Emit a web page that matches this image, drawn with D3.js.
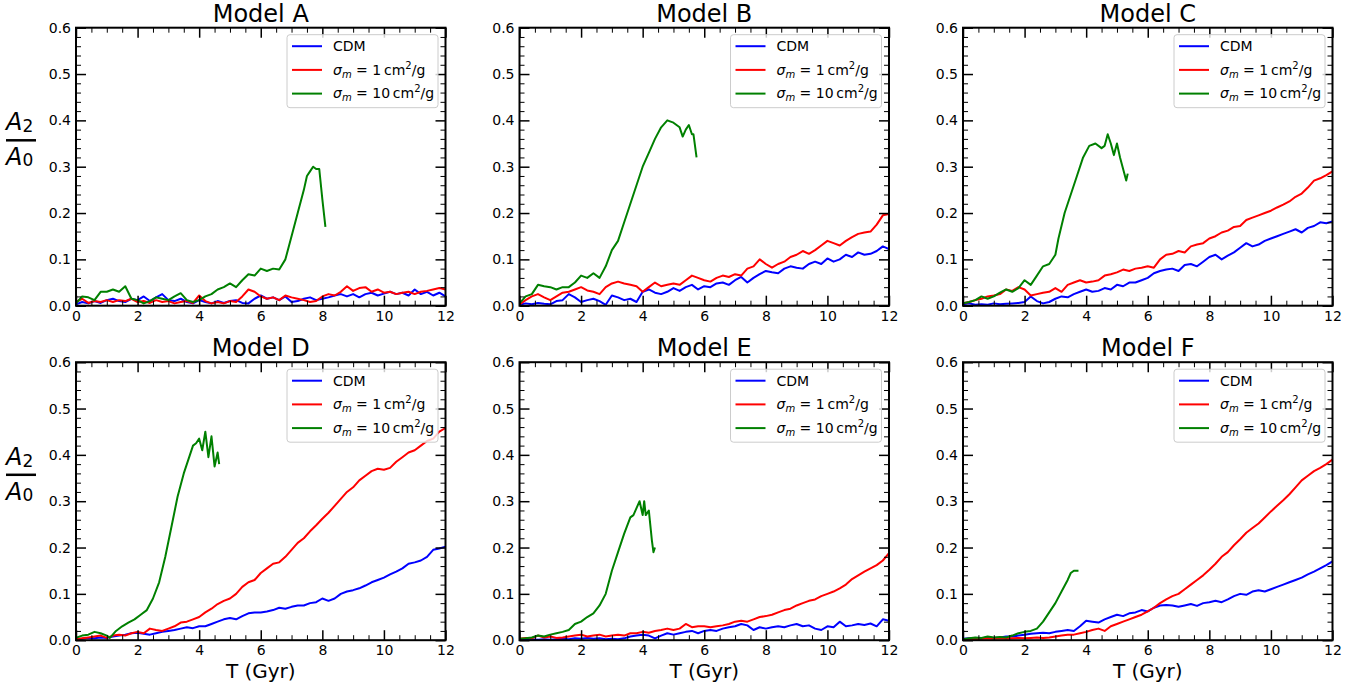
<!DOCTYPE html>
<html>
<head>
<meta charset="utf-8">
<script src="https://cdn.jsdelivr.net/npm/d3@7"></script>
<style>
  body { margin: 0; background: #fff; }
  svg text { font-family: "DejaVu Sans", sans-serif; fill: #000; }
</style>
</head>
<body>
<svg id="chart" width="1368" height="689"></svg>
<script>
// time sampling of the CDM and 1 cm^2/g runs (Gyr)
const T_STEP = 0.2;

const models = ["Model A", "Model B", "Model C", "Model D", "Model E", "Model F"];
const xTicks = [0, 2, 4, 6, 8, 10, 12];
const yTicks = [0, 0.1, 0.2, 0.3, 0.4, 0.5, 0.6];
const colors = ["#0000ff", "#ff0000", "#008000"];

// A2/A0, CDM
const cdmA = [0.003,0.008,0.005,0.01,0.006,0.012,0.015,0.01,0.008,0.015,0.012,0.02,0.01,0.018,0.025,0.012,0.01,0.015,0.008,0.005,
  0.012,0.008,0.005,0.01,0.006,0.01,0.012,0.006,0.005,0.015,0.022,0.015,0.018,0.012,0.02,0.008,0.01,0.015,0.018,0.012,
  0.015,0.018,0.022,0.025,0.02,0.025,0.018,0.025,0.028,0.022,0.026,0.03,0.025,0.028,0.022,0.035,0.025,0.03,0.022,0.028,0.02];
const cdmB = [0.002,0.005,0.003,0.006,0.004,0.003,0.01,0.012,0.025,0.018,0.008,0.012,0.015,0.01,0.002,0.022,0.018,0.012,0.015,0.008,
  0.03,0.035,0.028,0.025,0.03,0.038,0.032,0.04,0.045,0.035,0.042,0.04,0.048,0.05,0.045,0.055,0.062,0.05,0.06,0.068,
  0.075,0.072,0.07,0.08,0.085,0.082,0.08,0.09,0.095,0.09,0.102,0.095,0.1,0.11,0.105,0.115,0.11,0.112,0.118,0.128,0.122];
const cdmC = [0.003,0.005,0.002,0.003,0.002,0.005,0.003,0.004,0.005,0.006,0.008,0.02,0.01,0.005,0.008,0.015,0.02,0.018,0.025,0.03,
  0.035,0.03,0.032,0.038,0.035,0.045,0.042,0.05,0.05,0.055,0.06,0.07,0.075,0.078,0.08,0.075,0.088,0.09,0.085,0.095,
  0.105,0.11,0.1,0.108,0.115,0.125,0.135,0.128,0.132,0.14,0.145,0.15,0.155,0.16,0.165,0.158,0.168,0.172,0.18,0.178,0.182];
const cdmD = [0.002,0.003,0.005,0.004,0.006,0.005,0.008,0.01,0.012,0.015,0.016,0.014,0.012,0.015,0.018,0.02,0.022,0.025,0.028,0.026,
  0.03,0.03,0.035,0.04,0.045,0.048,0.045,0.052,0.058,0.06,0.06,0.062,0.065,0.07,0.068,0.072,0.075,0.075,0.08,0.082,
  0.09,0.085,0.09,0.1,0.105,0.108,0.112,0.118,0.125,0.13,0.135,0.142,0.148,0.155,0.165,0.168,0.172,0.18,0.195,0.198,0.202];
const cdmE = [0.002,0.001,0.002,0.001,0.002,0.001,0.002,0.003,0.002,0.004,0.003,0.005,0.003,0.004,0.002,0.003,0.002,0.004,0.008,0.01,
  0.012,0.01,0.004,0.01,0.015,0.012,0.015,0.018,0.02,0.015,0.02,0.022,0.02,0.025,0.028,0.03,0.035,0.032,0.022,0.028,
  0.025,0.028,0.03,0.028,0.032,0.035,0.03,0.032,0.025,0.022,0.03,0.028,0.04,0.03,0.032,0.035,0.033,0.036,0.03,0.045,0.042];
const cdmF = [0.003,0.004,0.005,0.004,0.006,0.005,0.006,0.008,0.008,0.01,0.012,0.014,0.015,0.016,0.015,0.018,0.02,0.022,0.02,0.03,
  0.042,0.04,0.038,0.045,0.05,0.055,0.052,0.058,0.06,0.065,0.062,0.07,0.075,0.076,0.075,0.072,0.075,0.078,0.074,0.08,
  0.082,0.085,0.082,0.088,0.095,0.1,0.098,0.105,0.108,0.105,0.11,0.115,0.12,0.125,0.13,0.135,0.142,0.148,0.155,0.162,0.17];

// A2/A0, sigma_m = 1 cm^2/g
const sidm1A = [0.008,0.015,0.006,0.01,0.008,0.012,0.008,0.012,0.01,0.015,0.008,0.01,0.006,0.012,0.008,0.01,0.005,0.008,0.01,0.006,
  0.022,0.01,0.005,0.008,0.005,0.01,0.008,0.02,0.035,0.03,0.02,0.015,0.018,0.012,0.022,0.018,0.015,0.012,0.008,0.01,
  0.02,0.025,0.022,0.03,0.042,0.032,0.038,0.04,0.03,0.035,0.028,0.03,0.025,0.028,0.03,0.025,0.03,0.032,0.035,0.038,0.035];
const sidm1B = [0.003,0.012,0.02,0.025,0.018,0.012,0.02,0.028,0.03,0.035,0.04,0.033,0.03,0.025,0.04,0.048,0.052,0.048,0.045,0.042,
  0.03,0.04,0.05,0.042,0.045,0.048,0.045,0.055,0.065,0.06,0.055,0.052,0.06,0.065,0.062,0.068,0.065,0.08,0.085,0.1,
  0.09,0.082,0.09,0.095,0.105,0.11,0.118,0.112,0.12,0.13,0.14,0.135,0.13,0.14,0.148,0.155,0.158,0.16,0.175,0.195,0.198];
const sidm1C = [0.005,0.008,0.012,0.015,0.02,0.022,0.025,0.035,0.032,0.04,0.035,0.022,0.025,0.028,0.03,0.038,0.03,0.045,0.05,0.055,
  0.05,0.052,0.055,0.065,0.068,0.072,0.078,0.075,0.08,0.082,0.085,0.082,0.1,0.11,0.112,0.118,0.115,0.128,0.132,0.135,
  0.145,0.15,0.158,0.162,0.17,0.172,0.185,0.19,0.195,0.2,0.205,0.212,0.218,0.225,0.235,0.242,0.255,0.27,0.275,0.282,0.29];
const sidm1D = [0.002,0.004,0.006,0.008,0.01,0.005,0.01,0.012,0.01,0.015,0.018,0.015,0.025,0.022,0.02,0.025,0.03,0.038,0.04,0.045,
  0.05,0.06,0.068,0.078,0.085,0.09,0.1,0.115,0.125,0.13,0.145,0.155,0.165,0.168,0.18,0.195,0.21,0.22,0.235,0.248,
  0.262,0.275,0.29,0.305,0.32,0.33,0.345,0.355,0.365,0.37,0.368,0.372,0.385,0.395,0.405,0.41,0.42,0.43,0.435,0.45,0.458];
const sidm1E = [0.003,0.005,0.004,0.01,0.006,0.008,0.005,0.006,0.008,0.01,0.012,0.008,0.01,0.012,0.008,0.01,0.012,0.01,0.015,0.015,
  0.018,0.016,0.02,0.022,0.025,0.022,0.025,0.035,0.028,0.03,0.03,0.028,0.03,0.032,0.035,0.04,0.042,0.04,0.045,0.05,
  0.052,0.055,0.06,0.065,0.068,0.075,0.08,0.085,0.088,0.095,0.1,0.105,0.112,0.12,0.132,0.14,0.148,0.155,0.162,0.172,0.188];
const sidm1F = [0.002,0.003,0.002,0.003,0.004,0.003,0.004,0.003,0.004,0.005,0.004,0.005,0.006,0.005,0.006,0.008,0.01,0.012,0.012,0.015,
  0.018,0.022,0.025,0.02,0.03,0.035,0.04,0.045,0.05,0.055,0.062,0.07,0.08,0.088,0.095,0.1,0.11,0.12,0.13,0.14,
  0.152,0.165,0.18,0.19,0.205,0.218,0.232,0.242,0.252,0.265,0.278,0.29,0.302,0.315,0.33,0.345,0.355,0.365,0.372,0.38,0.39];

// A2/A0, sigma_m = 10 cm^2/g (runs stop early, own time samples)
const sidm10TA = [0,0.2,0.4,0.6,0.8,1.0,1.2,1.4,1.6,1.8,2.0,2.2,2.4,2.6,2.8,3.0,3.2,3.4,3.6,3.8,4.0,4.2,4.4,4.6,4.8,5.0,5.2,5.4,5.6,5.8,6.0,6.2,6.4,6.6,6.8,7.0,7.2,7.4,7.5,7.6,7.7,7.8,7.9,8.0,8.1];
const sidm10A = [0.005,0.02,0.018,0.012,0.03,0.03,0.035,0.03,0.042,0.015,0.012,0.005,0.01,0.018,0.015,0.012,0.02,0.027,0.012,0.008,0.012,0.02,0.025,0.035,0.04,0.048,0.04,0.055,0.068,0.065,0.08,0.075,0.08,0.078,0.1,0.15,0.2,0.25,0.28,0.29,0.3,0.295,0.295,0.23,0.17];
const sidm10TB = [0,0.2,0.4,0.6,0.8,1.0,1.2,1.4,1.6,1.8,2.0,2.2,2.4,2.6,2.8,3.0,3.2,3.4,3.6,3.8,4.0,4.2,4.4,4.6,4.8,5.0,5.2,5.3,5.4,5.5,5.6,5.65,5.75];
const sidm10B = [0.005,0.02,0.025,0.045,0.042,0.04,0.035,0.04,0.04,0.05,0.065,0.06,0.07,0.06,0.085,0.12,0.14,0.18,0.22,0.26,0.3,0.33,0.36,0.385,0.4,0.395,0.385,0.365,0.38,0.39,0.37,0.37,0.32];
const sidm10TC = [0,0.2,0.4,0.6,0.8,1.0,1.2,1.4,1.6,1.8,2.0,2.2,2.4,2.6,2.8,3.0,3.1,3.3,3.5,3.7,3.9,4.1,4.3,4.5,4.6,4.7,4.8,4.9,5.0,5.1,5.2,5.3,5.35];
const sidm10C = [0.005,0.008,0.012,0.02,0.015,0.02,0.028,0.035,0.03,0.038,0.055,0.045,0.065,0.085,0.09,0.11,0.145,0.2,0.24,0.28,0.32,0.345,0.35,0.34,0.345,0.37,0.35,0.325,0.35,0.32,0.295,0.27,0.285];
const sidm10TD = [0,0.2,0.4,0.6,0.8,1.0,1.1,1.3,1.5,1.7,1.9,2.1,2.3,2.5,2.7,2.9,3.1,3.3,3.5,3.7,3.8,3.9,4.0,4.1,4.2,4.3,4.4,4.5,4.6,4.65];
const sidm10D = [0.005,0.01,0.012,0.018,0.015,0.01,0.005,0.02,0.03,0.038,0.045,0.055,0.065,0.09,0.125,0.18,0.245,0.31,0.36,0.4,0.42,0.425,0.435,0.41,0.45,0.395,0.44,0.375,0.405,0.38];
const sidm10TE = [0,0.2,0.4,0.6,0.8,1.0,1.2,1.4,1.6,1.8,2.0,2.2,2.4,2.6,2.8,3.0,3.2,3.4,3.6,3.7,3.8,3.9,4.0,4.05,4.1,4.2,4.3,4.35,4.4];
const sidm10E = [0.003,0.004,0.006,0.01,0.008,0.012,0.015,0.018,0.022,0.035,0.04,0.05,0.058,0.075,0.1,0.15,0.19,0.23,0.265,0.27,0.285,0.3,0.27,0.3,0.27,0.28,0.215,0.19,0.2];
const sidm10TF = [0,0.2,0.4,0.6,0.8,1.0,1.2,1.4,1.6,1.8,2.0,2.2,2.4,2.6,2.8,3.0,3.2,3.4,3.5,3.6,3.75];
const sidm10F = [0.002,0.004,0.006,0.005,0.008,0.006,0.007,0.006,0.01,0.015,0.018,0.02,0.025,0.04,0.06,0.08,0.105,0.13,0.145,0.15,0.15];

const cdm = [cdmA, cdmB, cdmC, cdmD, cdmE, cdmF];
const sidm1 = [sidm1A, sidm1B, sidm1C, sidm1D, sidm1E, sidm1F];
const sidm10T = [sidm10TA, sidm10TB, sidm10TC, sidm10TD, sidm10TE, sidm10TF];
const sidm10 = [sidm10A, sidm10B, sidm10C, sidm10D, sidm10E, sidm10F];

// layout
const colX = [76, 519.5, 963];
const rowY = [27.7, 362.2];
const W = 369.5;
const H = 278;

const svg = d3.select("#chart");

const x = d3.scaleLinear().domain([0, 12]).range([0, W]);
const y = d3.scaleLinear().domain([0, 0.6]).range([H, 0]);

const xMinor = d3.range(0.5, 12, 0.5).filter(v => v % 2 !== 0);
const yMinor = d3.range(1, 30).map(v => v * 0.02).filter((v, i) => (i + 1) % 5 !== 0);

const line = d3.line()
    .x(d => x(d[0]))
    .y(d => y(d[1]));

function styleAxis(g, width) {
  g.select(".domain").remove();
  g.selectAll(".tick line")
      .attr("stroke", "#000")
      .attr("stroke-width", width);
  g.selectAll(".tick text")
      .attr("font-family", "DejaVu Sans, sans-serif")
      .attr("font-size", 14)
      .attr("fill", "#000");
}

function addAxes(panel) {
  const fmt = d3.format(".1f");
  // major ticks, inward on all four sides
  panel.append("g")
      .attr("transform", `translate(0,${H})`)
      .call(d3.axisBottom(x).tickValues(xTicks).tickSize(-10).tickPadding(5).tickFormat(d3.format("d")))
      .call(g => styleAxis(g, 1.5));
  panel.append("g")
      .call(d3.axisLeft(y).tickValues(yTicks).tickSize(-10).tickPadding(5).tickFormat(fmt))
      .call(g => styleAxis(g, 1.5));
  panel.append("g")
      .call(d3.axisTop(x).tickValues(xTicks).tickSize(-10).tickFormat(""))
      .call(g => styleAxis(g, 1.5));
  panel.append("g")
      .attr("transform", `translate(${W},0)`)
      .call(d3.axisRight(y).tickValues(yTicks).tickSize(-10).tickFormat(""))
      .call(g => styleAxis(g, 1.5));

  // minor ticks
  panel.append("g")
      .attr("transform", `translate(0,${H})`)
      .call(d3.axisBottom(x).tickValues(xMinor).tickSize(-5).tickFormat(""))
      .call(g => styleAxis(g, 1));
  panel.append("g")
      .call(d3.axisTop(x).tickValues(xMinor).tickSize(-5).tickFormat(""))
      .call(g => styleAxis(g, 1));
  panel.append("g")
      .call(d3.axisLeft(y).tickValues(yMinor).tickSize(-5).tickFormat(""))
      .call(g => styleAxis(g, 1));
  panel.append("g")
      .attr("transform", `translate(${W},0)`)
      .call(d3.axisRight(y).tickValues(yMinor).tickSize(-5).tickFormat(""))
      .call(g => styleAxis(g, 1));
}

function sigmaLabel(text, value) {
  text.append("tspan").attr("font-style", "italic").text("\u03c3");
  text.append("tspan").attr("font-style", "italic").attr("font-size", 10).attr("dy", 3).text("m");
  text.append("tspan").attr("dy", -3).text(` = ${value}\u2009cm`);
  text.append("tspan").attr("font-size", 10).attr("dy", -6).text("2");
  text.append("tspan").attr("dy", 6).text("/g");
}

function addLegend(panel) {
  const lg = panel.append("g")
      .attr("transform", `translate(${W - 158.5},7)`);

  lg.append("rect")
      .attr("width", 151)
      .attr("height", 73)
      .attr("rx", 3)
      .attr("fill", "#fff")
      .attr("fill-opacity", 0.8)
      .attr("stroke", "#cccccc")
      .attr("stroke-width", 1);

  [0, 1, 2].forEach(i => {
    const ry = 11.5 + i * 23.7;
    lg.append("line")
        .attr("x1", 5).attr("x2", 35)
        .attr("y1", ry).attr("y2", ry)
        .attr("stroke", colors[i])
        .attr("stroke-width", 2);
    const t = lg.append("text")
        .attr("x", 46)
        .attr("y", ry)
        .attr("dy", "0.35em")
        .attr("font-size", 14);
    if (i === 0) t.text("CDM");
    else sigmaLabel(t, i === 1 ? "1" : "10");
  });
}

function addYLabel(row) {
  const g = svg.append("g")
      .attr("transform", `translate(0,${rowY[row]})`);
  const num = g.append("text")
      .attr("x", 6)
      .attr("y", 102.5)
      .attr("font-size", 24)
      .attr("font-style", "italic");
  num.append("tspan").text("A");
  num.append("tspan").attr("font-style", "normal").attr("font-size", 17).attr("dy", 2).text("2");
  g.append("line")
      .attr("x1", 6).attr("x2", 36)
      .attr("y1", 112.6).attr("y2", 112.6)
      .attr("stroke", "#000")
      .attr("stroke-width", 2.5);
  const den = g.append("text")
      .attr("x", 6)
      .attr("y", 137.5)
      .attr("font-size", 24)
      .attr("font-style", "italic");
  den.append("tspan").text("A");
  den.append("tspan").attr("font-style", "normal").attr("font-size", 17).attr("dy", 1).text("0");
}

svg.append("defs").append("clipPath")
    .attr("id", "plot-clip")
  .append("rect")
    .attr("width", W)
    .attr("height", H);

models.forEach((name, k) => {
  const col = k % 3;
  const row = Math.floor(k / 3);
  const panel = svg.append("g")
      .attr("transform", `translate(${colX[col]},${rowY[row]})`);

  panel.append("text")
      .attr("x", W / 2)
      .attr("y", -6)
      .attr("text-anchor", "middle")
      .attr("font-size", 24)
      .text(name);

  const runs = [
    cdm[k].map((v, i) => [i * T_STEP, v]),
    sidm1[k].map((v, i) => [i * T_STEP, v]),
    sidm10[k].map((v, i) => [sidm10T[k][i], v])
  ];

  panel.append("g")
      .attr("clip-path", "url(#plot-clip)")
    .selectAll("path")
      .data(runs)
    .enter().append("path")
      .attr("d", line)
      .attr("fill", "none")
      .attr("stroke", (d, i) => colors[i])
      .attr("stroke-width", 2)
      .attr("stroke-linejoin", "round");

  addAxes(panel);

  panel.append("rect")
      .attr("width", W)
      .attr("height", H)
      .attr("fill", "none")
      .attr("stroke", "#000")
      .attr("stroke-width", 2);

  addLegend(panel);

  if (row === 1) {
    panel.append("text")
        .attr("x", W / 2)
        .attr("y", H + 38)
        .attr("text-anchor", "middle")
        .attr("font-size", 20)
        .text("T (Gyr)");
  }
});

addYLabel(0);
addYLabel(1);
</script>
</body>
</html>
